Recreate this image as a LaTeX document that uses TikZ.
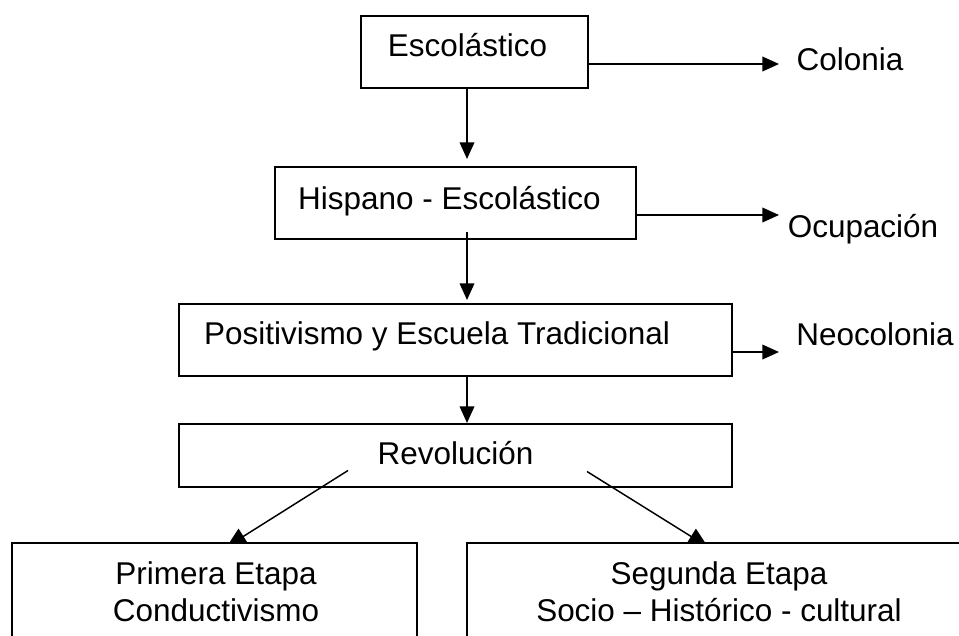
\documentclass[tikz,border=0pt]{standalone}
\usepackage{fontspec}
\setmainfont{Liberation Sans}
\usetikzlibrary{arrows.meta,calc}
\begin{document}
\begin{tikzpicture}[x=0.75pt,y=-0.75pt,
  box/.style={draw=black,line width=1.5pt,fill=white,inner sep=0pt,outer sep=0pt},
  lbl/.style={font=\fontsize{23.6pt}{28.5pt}\selectfont,inner sep=0pt,outer sep=0pt,anchor=base,text=black},
  arr/.style={draw=black,line width=1.2pt,-{Triangle[length=12.5pt,width=11pt]}},
  dg/.style={draw=black,line width=1.1pt,-{Triangle[length=15pt,width=13.5pt]}}]
\useasboundingbox (0,0) rectangle (959,635);
\clip (0,0) rectangle (959,635);

\coordinate (ax) at (467,0);
\coordinate (c1) at (779,64);
\coordinate (c2) at (779,215);
\coordinate (c3) at (779,352);

% boxes
\node[box,minimum width={227*0.75pt},minimum height={72*0.75pt}] (b1) at (474.5,52) {};
\node[box,minimum width={361*0.75pt},minimum height={72*0.75pt}] (b2) at (455.5,203) {};
\node[box,minimum width={553*0.75pt},minimum height={72*0.75pt}] (b3) at (455.5,340) {};
\node[box,minimum width={553*0.75pt},minimum height={63*0.75pt}] (b4) at (455.5,455.5) {};

% texts
\node[lbl] (t1) at (467.5,56) {Escolástico};
\node[lbl] (t2) at (449.5,209) {Hispano - Escolástico};
\node[lbl] (t3) at (437,344) {Positivismo y Escuela Tradicional};
\node[lbl] (t4) at (455.5,464) {Revolución};
\node[lbl] (o1) at (850,70) {Colonia};
\node[lbl] (o2) at (863,237) {Ocupación};
\node[lbl] (o3) at (875,345) {Neocolonia};

% vertical arrows
\draw[arr] (ax |- b1.south) -- ($(ax |- b2.north)+(0,-8)$);
\draw[arr] ($(ax |- b2.south)+(0,-7)$) -- ($(ax |- b3.north)+(0,-4)$);
\draw[arr] (ax |- b3.south) -- ($(ax |- b4.north)+(0,-1)$);

% side arrows
\draw[arr] (b1.east |- c1) -- (c1);
\draw[arr] (b2.east |- c2) -- (c2);
\draw[arr] (b3.east |- c3) -- (c3);

% diagonal arrows (drawn before lower boxes so boxes cover the tips)
\coordinate (p1n) at (214.5,543);
\coordinate (p2n) at (720,543);
\draw[dg] ($(b4.south)+(-107.5,-16.5)$) -- ($(p1n)+(12,4)$);
\draw[dg] ($(b4.south)+(131.5,-15.5)$) -- ($(p2n)+(-12,4)$);

% lower boxes
\node[box,minimum width={405*0.75pt},minimum height={154*0.75pt},anchor=north] (p1) at (p1n) {};
\node[box,minimum width={506*0.75pt},minimum height={154*0.75pt},anchor=north] (p2) at (p2n) {};
\node[lbl] (p1a) at (216,584) {Primera Etapa};
\node[lbl] (p1b) at (216,621) {Conductivismo};
\node[lbl] (p2a) at (719,584) {Segunda Etapa};
\node[lbl] (p2b) at (719,621) {Socio – Histórico - cultural};
\end{tikzpicture}
\end{document}
